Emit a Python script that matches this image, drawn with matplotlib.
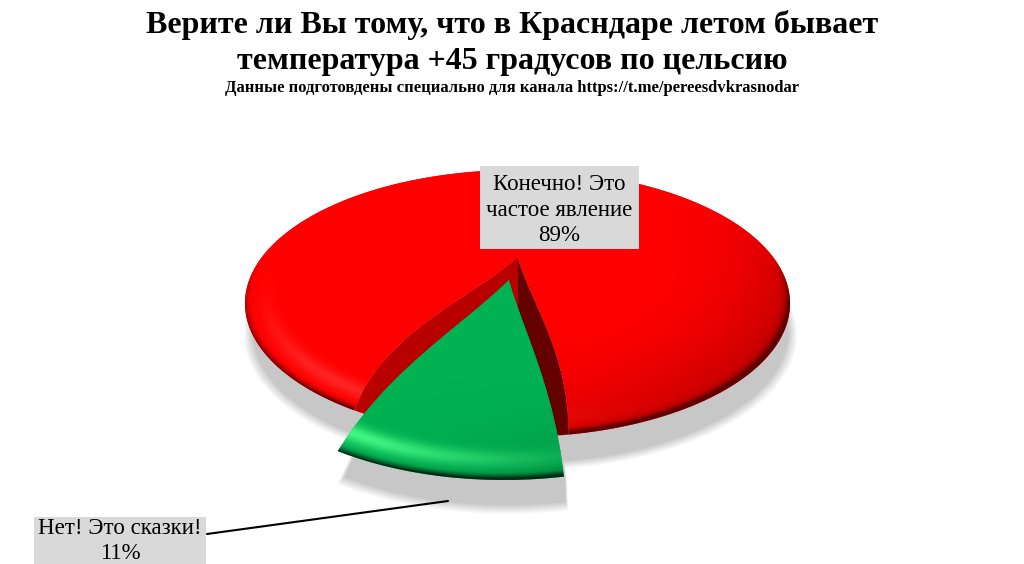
import numpy as np
import matplotlib
matplotlib.use("Agg")
import matplotlib.pyplot as plt
from matplotlib.patches import Rectangle
from matplotlib.path import Path
from matplotlib.transforms import Affine2D, Transform

plt.rcParams['font.family'] = ['Liberation Serif', 'DejaVu Serif']

# Data
title_lines = ['Верите ли Вы тому, что в Красндаре летом бывает',
               'температура +45 градусов по цельсию']
subtitle = 'Данные подготовдены специально для канала https://t.me/pereesdvkrasnodar'
answers = ['Конечно! Это\nчастое явление', 'Нет! Это сказки!']
percents = [89, 11]

RED = (1.0, 0.0, 0.0)
GREEN = (0.0, 0.69, 0.31)
WALL_LEFT = '#b80000'
WALL_RIGHT = '#640000'
LABEL_BG = '#d9d9d9'
SHADOW = 0.78

# Tilt of the pie on the page, in pixels
CX, CY = 517.5, 257.0
WIDE, DEEP, TILT = 255.5, 117.3, -0.348
START = 280
GAP_MID = np.radians(START - 1.8 * percents[1])


class Tilted(Transform):
    """Puts a flat pie into page pixels with perspective and bulged cut edges."""
    input_dims = output_dims = 2

    def __init__(self, center=(0, 0), radius=1.0, bulge=(0.16, 0.07), shift=(0, 0)):
        super().__init__()
        self.center = np.array(center, dtype=float)
        self.radius = radius
        self.bulge = bulge
        self.shift = shift

    def transform_non_affine(self, xy):
        xy = np.asarray(xy, dtype=float)
        rel = xy - self.center
        r = np.hypot(rel[:, 0], rel[:, 1]) / self.radius
        th = np.arctan2(rel[:, 1], rel[:, 0])
        d = (th - GAP_MID + np.pi) % (2 * np.pi) - np.pi
        side = np.where(d < 0, -self.bulge[0], self.bulge[1])
        fade = np.clip(np.abs(d) / np.radians(20), 0, 1) * (1 - np.abs(d) / np.pi)
        th = th + side * fade * 4 * r * (1 - np.clip(r, 0, 1))
        x = self.center[0] + r * self.radius * np.cos(th)
        y = self.center[1] + r * self.radius * np.sin(th)
        w = 1 + TILT * (-y)
        return np.column_stack([CX + WIDE * x / w + self.shift[0],
                                CY + DEEP * (-y) / w + self.shift[1]])

    def transform_path_non_affine(self, path):
        # flatten arcs first, then add points along the straight edges too
        big = path.transformed(Affine2D().scale(800))
        poly = big.to_polygons(closed_only=False)[0] / 800
        t = np.arange(len(poly))
        tt = np.linspace(0, len(poly) - 1, (len(poly) - 1) * 12 + 1)
        dense = np.column_stack([np.interp(tt, t, poly[:, 0]), np.interp(tt, t, poly[:, 1])])
        return Path(self.transform_non_affine(dense))


def flat_pie(ax, explode=(0, 0.187), green_radius=0.96):
    wedges, _ = ax.pie(percents, explode=explode, startangle=START)
    wedges[1].set_radius(green_radius)
    return wedges


def trim_green(green):
    # the bevel eats a little of each cut face
    green.set_theta1(green.theta1 + 4.0)
    green.set_theta2(green.theta2 - 1.5)


def place(wedge, color, zorder, shift=(0, 0), bulge=(0.16, 0.07)):
    wedge.set_transform(Tilted(wedge.center, wedge.r, bulge, shift) + ax.transData)
    wedge.set_facecolor(color)
    wedge.set_edgecolor('none')
    wedge.set_zorder(zorder)


def shading(base, glow, center, radius, glow_amount, dark_amount, dark_max):
    # per pixel light on the bevel of a slice
    px, py = np.meshgrid(np.arange(1024) + 0.5, np.arange(564) + 0.5)
    dy = py - CY
    v = dy / (DEEP - TILT * dy)
    x = (px - CX) * (1 + TILT * v) / WIDE
    y = -v
    rx, ry = x - center[0], y - center[1]
    dist = np.hypot(rx, ry)
    r = dist / radius
    ux, uy = rx / np.maximum(dist, 1e-6), ry / np.maximum(dist, 1e-6)
    to_right = np.clip(0.75 * ux - 0.66 * uy, 0, 1)
    to_left = np.clip(-0.5 * ux - 0.87 * uy, 0, 1)
    low = np.clip(-uy, 0, 1)

    broad = np.clip((r - 0.5) / 0.5, 0, 1) ** 2 * to_right ** 2 * 0.24
    rim = np.clip((r - 0.95) / 0.05, 0, 1) ** 2 * (0.1 + to_right) * 0.7
    edge = np.clip((r - 0.975) / 0.025, 0, 1) ** 1.5 * low * dark_amount
    band = np.exp(-((r - 0.93) / 0.03) ** 2) * to_left ** 6 * glow_amount

    dark = np.clip(broad + rim * (1 - to_left * 0.7) * low + edge, 0, dark_max)
    img = np.empty(px.shape + (3,))
    for c in range(3):
        img[..., c] = (base[c] * (1 - band) + glow[c] * band) * (1 - dark)
    return img


fig = plt.figure(figsize=(10.24, 5.64), dpi=100)
ax = fig.add_axes([0, 0, 1, 1])

# Soft shadow: the same pie, lower on the page, from light outer rings to full grey
levels = np.linspace(0, 1, 6)
for i, lev in enumerate(levels):
    grey = 1 - (1 - SHADOW) * (lev * 0.86 + 0.14)
    for explode in ((0, 0.187), (0, 0)):
        shade_red, shade_green = flat_pie(ax, explode=explode)
        if explode[1] == 0:
            shade_green.set_radius(1.0)
        else:
            trim_green(shade_green)
        for wedge in (shade_red, shade_green):
            wedge.set_radius(wedge.r * (1.012 - 0.027 * lev))
            place(wedge, str(grey), 1 + i * 0.01, shift=(3, 30))

# Inner walls of the cut
page = {WALL_LEFT: (0, CX), WALL_RIGHT: (CX, 1024)}
for color, (x0, x1) in page.items():
    gap = flat_pie(ax, explode=(0, 0), green_radius=1.0)
    gap[0].set_visible(False)
    gap[1].set_theta1(gap[1].theta1 + 3.5)
    gap[1].set_theta2(gap[1].theta2 - 2.5)
    place(gap[1], color, 2)
    gap[1].set_clip_on(True)  # pie turns clipping off on its wedges
    gap[1].set_clip_path(Path([(x0, 0), (x1, 0), (x1, 564), (x0, 564), (x0, 0)]), ax.transData)

# Top faces
red, green = flat_pie(ax)
red.set_theta1(red.theta1 - 2.5)
red.set_theta2(red.theta2 + 3.5)
trim_green(green)
place(red, RED, 3)
place(green, GREEN, 5, bulge=(0.09, 0.04))

im_red = ax.imshow(shading(RED, (1.0, 0.4, 0.4), red.center, red.r, 0.35, 0.75, 0.62),
                   extent=(0, 1024, 564, 0), zorder=3.5, aspect='auto')
im_red.set_clip_path(red)
im_green = ax.imshow(shading((0.0, 0.70, 0.32), (0.25, 0.98, 0.52), green.center, green.r, 1.0, 0.8, 0.75),
                     extent=(0, 1024, 564, 0), zorder=5.5, aspect='auto')
im_green.set_clip_path(green)

ax.set_aspect('auto')
ax.set_xlim(0, 1024)
ax.set_ylim(564, 0)
ax.axis('off')

# Labels
ax.add_patch(Rectangle((480, 166), 159, 83, facecolor=LABEL_BG, edgecolor='none', zorder=6))
ax.text(559.5, 210, f'{answers[0]}\n{percents[0]}%', ha='center', va='center', fontsize=16.5,
        linespacing=1.27, color='black', zorder=7)
ax.add_patch(Rectangle((34, 517), 172, 47, facecolor=LABEL_BG, edgecolor='none', zorder=6))
ax.text(120, 541, f'{answers[1]}\n{percents[1]}%', ha='center', va='center', fontsize=16.5,
        linespacing=1.2, color='black', zorder=7)
ax.annotate('', xy=(448, 501), xytext=(207, 534),
            arrowprops=dict(arrowstyle='-', color='black', lw=1.5, shrinkA=0, shrinkB=0), zorder=7)

# Titles
ax.text(512, 25, title_lines[0], ha='center', va='center', fontsize=23, fontweight='bold', zorder=8)
ax.text(512, 61, title_lines[1], ha='center', va='center', fontsize=23, fontweight='bold', zorder=8)
ax.text(512, 88, subtitle, ha='center', va='center', fontsize=12, fontweight='bold', zorder=8)

fig.savefig('out.png', dpi=100, facecolor='white')
